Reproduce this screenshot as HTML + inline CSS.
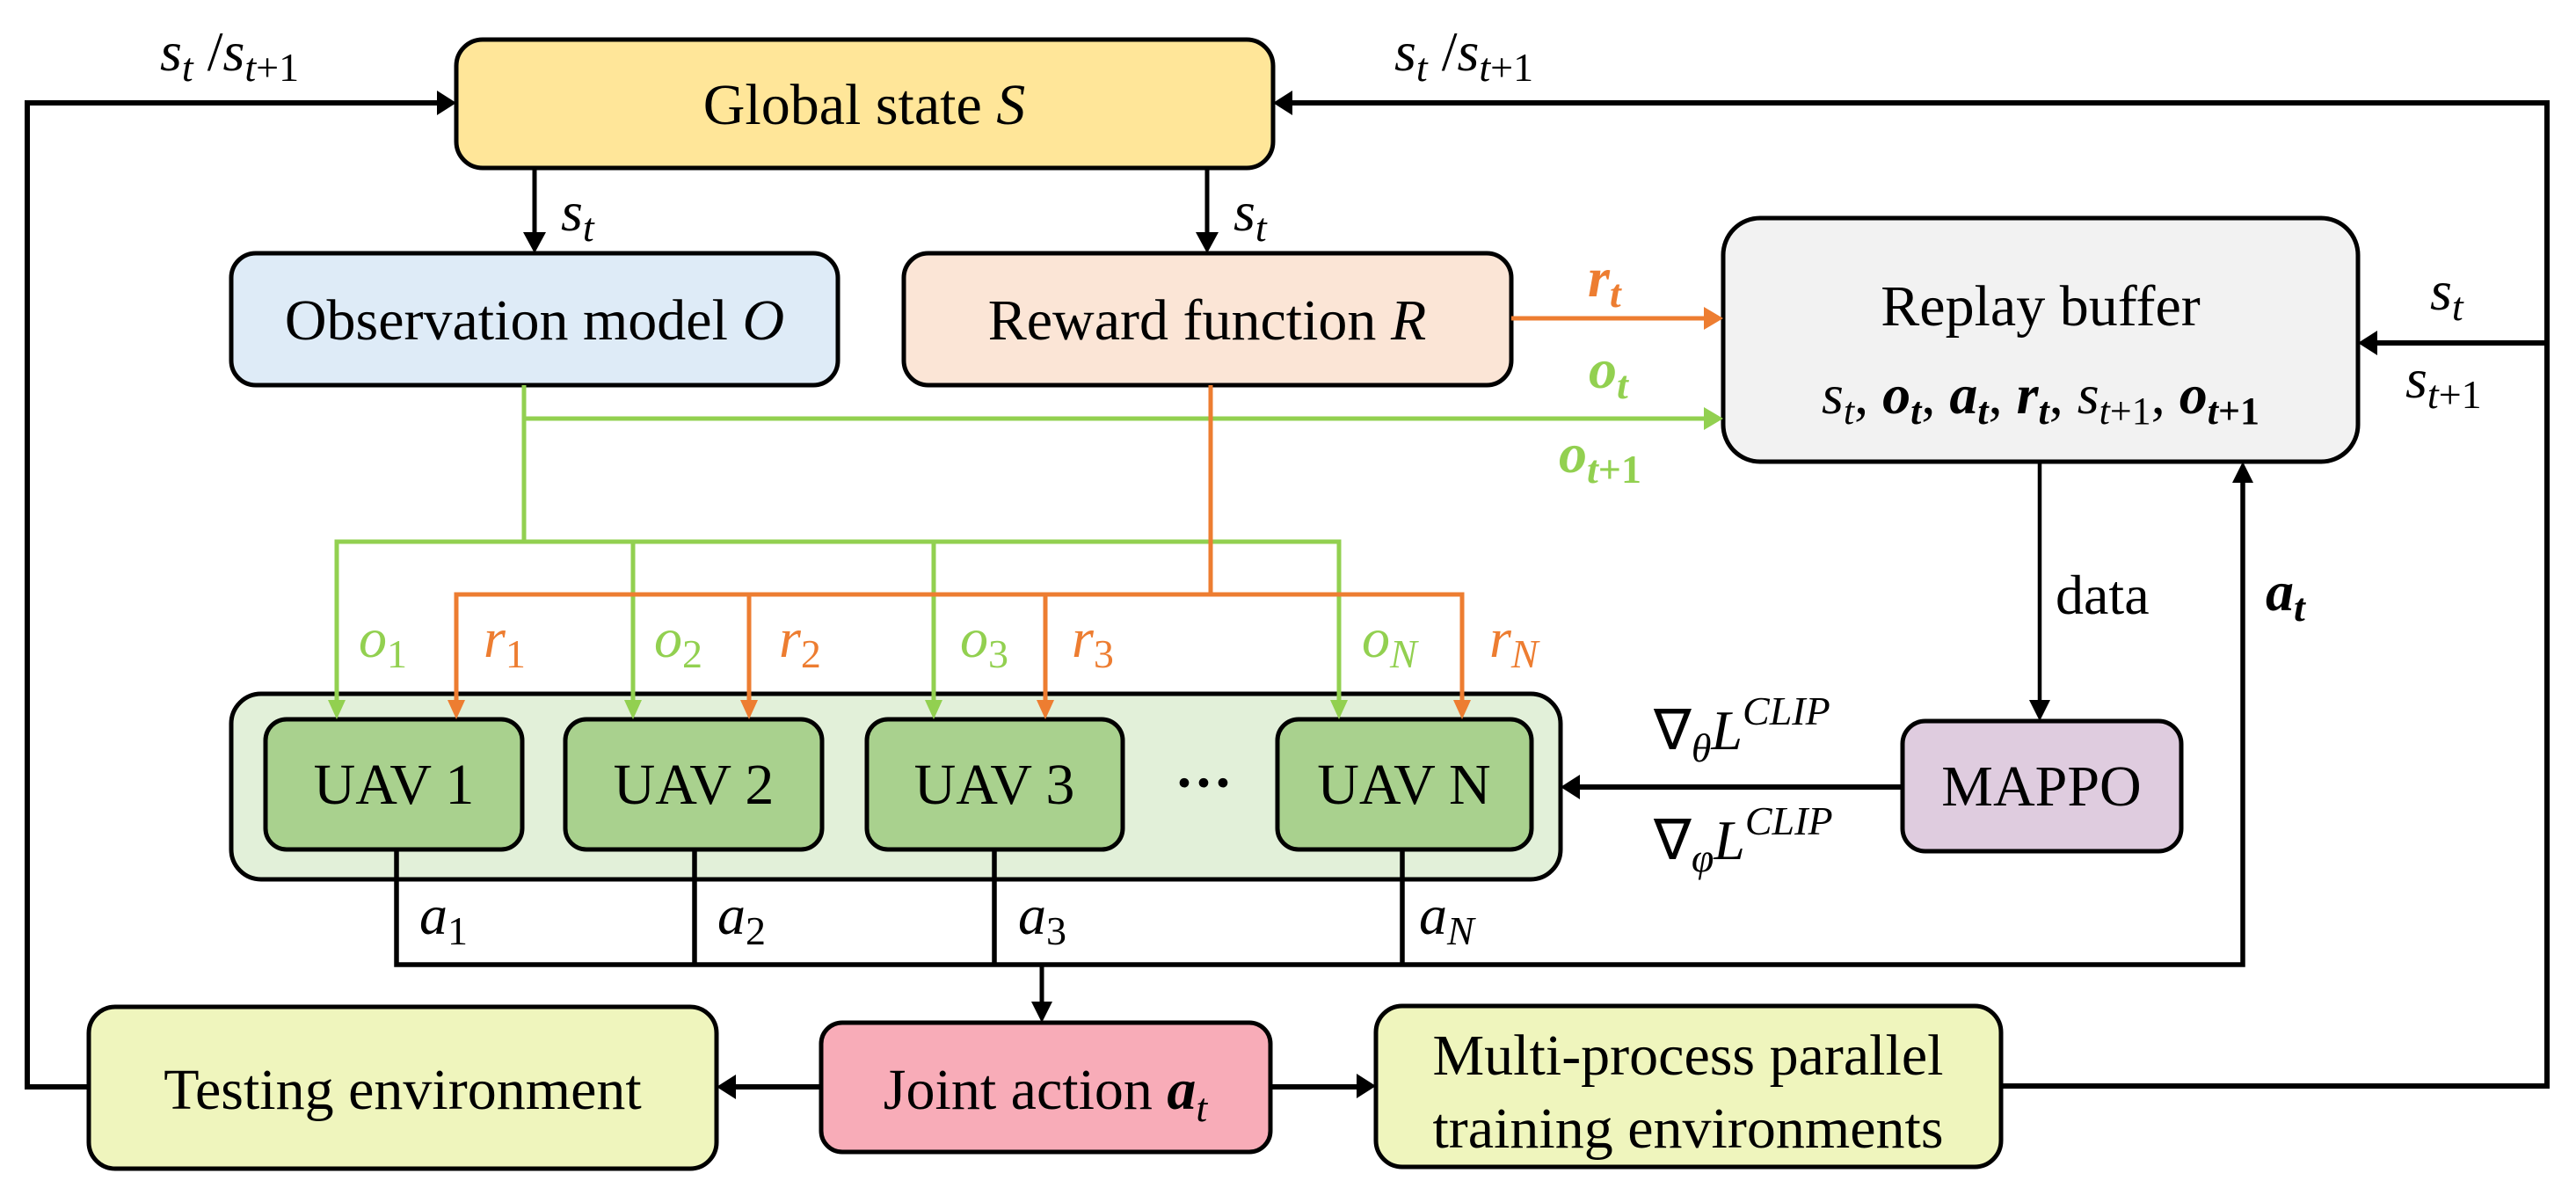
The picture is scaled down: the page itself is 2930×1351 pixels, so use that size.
<!DOCTYPE html>
<html><head><meta charset="utf-8"><style>
html,body{margin:0;padding:0;background:#fff}
svg{display:block}
text{font-family:"Liberation Serif",serif;fill:#000}
.m{font-style:italic}
</style></head><body>
<svg width="2930" height="1351" viewBox="0 0 2930 1351" xmlns="http://www.w3.org/2000/svg">
<g fill="none" stroke="#000" stroke-width="5">
<rect x="519" y="45" width="929" height="146" rx="30" fill="#FFE699"/>
<rect x="263" y="288" width="690" height="150" rx="28" fill="#DEEBF7"/>
<rect x="1028" y="288" width="691" height="150" rx="28" fill="#FBE5D6"/>
<rect x="1960" y="248" width="722" height="277" rx="42" fill="#F2F2F2"/>
<rect x="263" y="789" width="1512" height="211" rx="34" fill="#E2F0D9"/>
<rect x="302" y="818" width="292" height="148" rx="24" fill="#A9D18E"/>
<rect x="643" y="818" width="292" height="148" rx="24" fill="#A9D18E"/>
<rect x="986" y="818" width="291" height="148" rx="24" fill="#A9D18E"/>
<rect x="1453" y="818" width="289" height="148" rx="24" fill="#A9D18E"/>
<rect x="2164" y="820" width="317" height="148" rx="26" fill="#DFCCDF"/>
<rect x="934" y="1163" width="511" height="147" rx="24" fill="#F8ACB8"/>
<rect x="101" y="1145" width="714" height="184" rx="30" fill="#EFF5BD"/>
<rect x="1565" y="1144" width="711" height="183" rx="30" fill="#EFF5BD"/>
</g>
<g fill="none" stroke="#000">
<path d="M101,1236 H31 V117 H500" stroke-width="6"/>
<path d="M2276,1235 H2897 V117 H1468" stroke-width="6"/>
<path d="M2897,390 H2702" stroke-width="6"/>
<path d="M934,1236 H836" stroke-width="6"/>
<path d="M1445,1236 H1545" stroke-width="6"/>
<path d="M2164,895 H1795" stroke-width="6"/>
<path d="M608,191 V265" stroke-width="5"/>
<path d="M1373,191 V265" stroke-width="5"/>
<path d="M2320,525 V798" stroke-width="4.5"/>
<path d="M451,966 V1097 H2551 V547" stroke-width="5.5"/>
<path d="M790,966 V1097 M1131,966 V1097 M1595,966 V1097" stroke-width="5.5"/>
<path d="M1185,1097 V1140" stroke-width="5"/>
</g>
<g fill="#000">
<path d="M519,117 l-22,-14 v28 z"/>
<path d="M1448,117 l22,-14 v28 z"/>
<path d="M2682,390 l22,-14 v28 z"/>
<path d="M815,1236 l22,-14 v28 z"/>
<path d="M1565,1235 l-22,-14 v28 z"/>
<path d="M1775,895 l22,-14 v28 z"/>
<path d="M608,288 l-13,-24 h26 z"/>
<path d="M1373,288 l-13,-24 h26 z"/>
<path d="M2320,820 l-12,-24 h24 z"/>
<path d="M2551,525 l-12,24 h24 z"/>
<path d="M1185,1163 l-12,-24 h24 z"/>
</g>
<g fill="none" stroke="#92D050" stroke-width="5">
<path d="M596,438 V616"/>
<path d="M596,476 H1940"/>
<path d="M383,800 V616 H1523 V800"/>
<path d="M720,616 V800 M1062,616 V800"/>
</g>
<g fill="#92D050">
<path d="M1960,476 l-22,-13 v26 z"/>
<path d="M383,818 l-10,-22 h20 z"/><path d="M720,818 l-10,-22 h20 z"/><path d="M1062,818 l-10,-22 h20 z"/><path d="M1523,818 l-10,-22 h20 z"/>
</g>
<g fill="none" stroke="#ED7D31" stroke-width="5">
<path d="M1377,438 V676"/>
<path d="M1719,362 H1940"/>
<path d="M519,800 V676 H1663 V800"/>
<path d="M852,676 V800 M1189,676 V800"/>
</g>
<g fill="#ED7D31">
<path d="M1960,362 l-22,-13 v26 z"/>
<path d="M519,818 l-10,-22 h20 z"/><path d="M852,818 l-10,-22 h20 z"/><path d="M1189,818 l-10,-22 h20 z"/><path d="M1663,818 l-10,-22 h20 z"/>
</g>
<g font-size="66" text-anchor="middle">
<text x="983" y="141">Global state <tspan class="m">S</tspan></text>
<text x="608" y="386">Observation model <tspan class="m">O</tspan></text>
<text x="1373" y="386">Reward function <tspan class="m">R</tspan></text>
<text x="2321" y="370">Replay buffer</text>
<text x="448" y="914">UAV 1</text>
<text x="789" y="914">UAV 2</text>
<text x="1131" y="914">UAV 3</text>
<text x="1597" y="914">UAV N</text>
<text x="2322" y="916">MAPPO</text>
<text x="458" y="1261">Testing environment</text>
<text x="1189" y="1261">Joint action <tspan font-weight="bold" class="m">a</tspan><tspan class="m" font-size="46" dy="14">t</tspan></text>
<text x="1920" y="1222">Multi-process parallel</text>
<text x="1920" y="1305">training environments</text>
<text x="1369" y="912" font-weight="bold">···</text>
</g>
<text x="2321" y="470" font-size="64" text-anchor="middle"><tspan class="m">s</tspan><tspan class="m" font-size="44" dy="12">t</tspan><tspan dy="-12">, </tspan><tspan class="m" font-weight="bold">o</tspan><tspan class="m" font-weight="bold" font-size="44" dy="12">t</tspan><tspan dy="-12">, </tspan><tspan class="m" font-weight="bold">a</tspan><tspan class="m" font-weight="bold" font-size="44" dy="12">t</tspan><tspan dy="-12">, </tspan><tspan class="m" font-weight="bold">r</tspan><tspan class="m" font-weight="bold" font-size="44" dy="12">t</tspan><tspan dy="-12">, </tspan><tspan class="m">s</tspan><tspan font-size="44" dy="12"><tspan class="m">t</tspan>+1</tspan><tspan dy="-12">, </tspan><tspan class="m" font-weight="bold">o</tspan><tspan font-weight="bold" font-size="44" dy="12"><tspan class="m">t</tspan>+1</tspan></text>
<g font-size="64">
<text x="182" y="80"><tspan class="m">s</tspan><tspan class="m" font-size="46" dy="12">t</tspan><tspan dy="-12"> /</tspan><tspan class="m">s</tspan><tspan font-size="46" dy="12"><tspan class="m">t</tspan>+1</tspan></text>
<text x="1586" y="80"><tspan class="m">s</tspan><tspan class="m" font-size="46" dy="12">t</tspan><tspan dy="-12"> /</tspan><tspan class="m">s</tspan><tspan font-size="46" dy="12"><tspan class="m">t</tspan>+1</tspan></text>
<text x="638" y="262"><tspan class="m">s</tspan><tspan class="m" font-size="46" dy="12">t</tspan></text>
<text x="1403" y="262"><tspan class="m">s</tspan><tspan class="m" font-size="46" dy="12">t</tspan></text>
<text x="2764" y="352"><tspan class="m">s</tspan><tspan class="m" font-size="46" dy="12">t</tspan></text>
<text x="2736" y="452"><tspan class="m">s</tspan><tspan font-size="46" dy="12"><tspan class="m">t</tspan>+1</tspan></text>
<text x="1806" y="337" fill="#ED7D31" font-weight="bold"><tspan class="m" fill="#ED7D31">r</tspan><tspan class="m" font-size="46" dy="12" fill="#ED7D31">t</tspan></text>
<text x="1807" y="441" fill="#92D050" font-weight="bold"><tspan class="m" fill="#92D050">o</tspan><tspan class="m" font-size="46" dy="12" fill="#92D050">t</tspan></text>
<text x="1773" y="537" fill="#92D050" font-weight="bold"><tspan class="m" fill="#92D050">o</tspan><tspan font-size="46" dy="12" fill="#92D050"><tspan class="m" fill="#92D050">t</tspan>+1</tspan></text>
<text x="408" y="747" fill="#92D050"><tspan class="m" fill="#92D050">o</tspan><tspan font-size="46" dy="12" fill="#92D050">1</tspan></text>
<text x="744" y="747" fill="#92D050"><tspan class="m" fill="#92D050">o</tspan><tspan font-size="46" dy="12" fill="#92D050">2</tspan></text>
<text x="1092" y="747" fill="#92D050"><tspan class="m" fill="#92D050">o</tspan><tspan font-size="46" dy="12" fill="#92D050">3</tspan></text>
<text x="1549" y="747" fill="#92D050"><tspan class="m" fill="#92D050">o</tspan><tspan class="m" font-size="46" dy="12" fill="#92D050">N</tspan></text>
<text x="550" y="747" fill="#ED7D31"><tspan class="m" fill="#ED7D31">r</tspan><tspan font-size="46" dy="12" fill="#ED7D31">1</tspan></text>
<text x="886" y="747" fill="#ED7D31"><tspan class="m" fill="#ED7D31">r</tspan><tspan font-size="46" dy="12" fill="#ED7D31">2</tspan></text>
<text x="1219" y="747" fill="#ED7D31"><tspan class="m" fill="#ED7D31">r</tspan><tspan font-size="46" dy="12" fill="#ED7D31">3</tspan></text>
<text x="1694" y="747" fill="#ED7D31"><tspan class="m" fill="#ED7D31">r</tspan><tspan class="m" font-size="46" dy="12" fill="#ED7D31">N</tspan></text>
<text x="477" y="1062"><tspan class="m">a</tspan><tspan font-size="46" dy="12">1</tspan></text>
<text x="816" y="1062"><tspan class="m">a</tspan><tspan font-size="46" dy="12">2</tspan></text>
<text x="1158" y="1062"><tspan class="m">a</tspan><tspan font-size="46" dy="12">3</tspan></text>
<text x="1614" y="1062"><tspan class="m">a</tspan><tspan class="m" font-size="46" dy="12">N</tspan></text>
<text x="2338" y="698">data</text>
<text x="2577" y="694" font-weight="bold"><tspan class="m">a</tspan><tspan class="m" font-size="46" dy="12">t</tspan></text>
<text x="1881" y="852">∇<tspan class="m" font-size="46" dy="14">θ</tspan><tspan class="m" dy="-14">L</tspan><tspan class="m" font-size="46" dy="-28">CLIP</tspan></text>
<text x="1881" y="977">∇<tspan class="m" font-size="46" dy="14">φ</tspan><tspan class="m" dy="-14">L</tspan><tspan class="m" font-size="46" dy="-28">CLIP</tspan></text>
</g>
</svg>
</body></html>
